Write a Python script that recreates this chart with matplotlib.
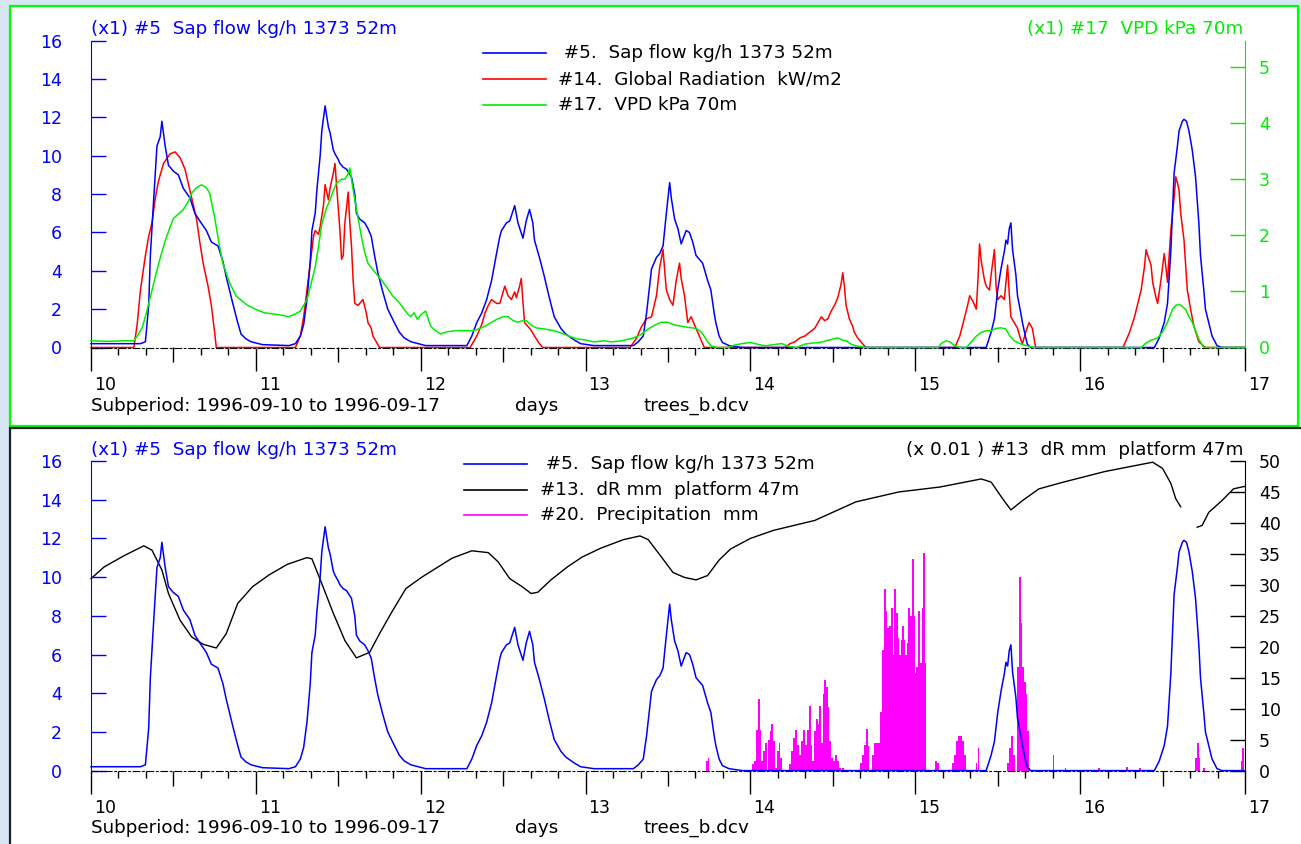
import numpy as np
import matplotlib
matplotlib.use('Agg')
import matplotlib.pyplot as plt
from matplotlib.patches import Rectangle
from matplotlib.lines import Line2D
import matplotlib.transforms as mtransforms

plt.rcParams['font.family'] = ['DejaVu Sans']
FS = 12.5      # tick labels
FT = 13.2      # header / legend / footer text

# ---------------- data ----------------
days = [10, 11, 12, 13, 14, 15, 16, 17]

# #5 Sap flow kg/h (left axes, both panels)
sap_t = [10.00, 10.30, 10.33, 10.35, 10.36, 10.38, 10.40, 10.42, 10.43, 10.45, 10.47, 10.50, 10.53,
         10.56, 10.60, 10.63, 10.66, 10.70, 10.73, 10.77, 10.80, 10.82, 10.84, 10.86, 10.89, 10.91,
         10.94, 10.97, 11.04, 11.20, 11.24, 11.27, 11.29, 11.31, 11.33, 11.34, 11.36, 11.37, 11.39,
         11.40, 11.42, 11.44, 11.45, 11.47, 11.48, 11.50, 11.51, 11.53, 11.55, 11.58, 11.60, 11.61,
         11.63, 11.66, 11.68, 11.70, 11.72, 11.74, 11.77, 11.80, 11.84, 11.87, 11.90, 11.94, 12.03,
         12.28, 12.31, 12.34, 12.37, 12.40, 12.43, 12.46, 12.48, 12.49, 12.52, 12.54, 12.57, 12.59,
         12.62, 12.64, 12.66, 12.68, 12.69, 12.72, 12.75, 12.78, 12.81, 12.85, 12.88, 12.93, 12.97,
         13.05, 13.29, 13.32, 13.35, 13.37, 13.40, 13.43, 13.45, 13.47, 13.49, 13.51, 13.52, 13.54,
         13.56, 13.58, 13.61, 13.63, 13.65, 13.67, 13.71, 13.74, 13.76, 13.78, 13.79, 13.81, 13.83,
         13.87, 13.95, 15.43, 15.46, 15.48, 15.50, 15.52, 15.54, 15.55, 15.56, 15.57, 15.58, 15.59,
         15.61, 15.62, 15.64, 15.65, 15.67, 15.68, 15.70, 16.45, 16.48, 16.51, 16.53, 16.55, 16.57,
         16.59, 16.60, 16.62, 16.63, 16.645, 16.66, 16.68, 16.70, 16.72, 16.73, 16.75, 16.76, 16.78,
         16.80, 16.83, 16.86, 17.00]
sap_v = [0.2, 0.2, 0.3, 2.2, 4.8, 7.7, 10.5, 11.0, 11.8, 10.5, 9.5, 9.2, 9.0,
         8.3, 7.8, 7.0, 6.6, 6.1, 5.5, 5.3, 4.5, 3.7, 3.0, 2.3, 1.3, 0.7,
         0.45, 0.3, 0.15, 0.1, 0.2, 0.6, 1.2, 2.5, 4.5, 6.1, 7.0, 8.2, 10.0,
         11.3, 12.6, 11.5, 11.2, 10.3, 10.1, 9.8, 9.6, 9.4, 9.3, 8.9, 8.0, 7.0,
         6.7, 6.5, 6.2, 5.8, 4.8, 3.9, 2.9, 2.0, 1.3, 0.8, 0.5, 0.3, 0.1,
         0.1, 0.6, 1.3, 1.8, 2.5, 3.5, 4.9, 5.8, 6.1, 6.5, 6.6, 7.4, 6.5,
         5.7, 6.6, 7.2, 6.5, 5.6, 4.7, 3.7, 2.6, 1.6, 1.0, 0.7, 0.4, 0.2,
         0.1, 0.1, 0.3, 0.6, 1.8, 4.1, 4.7, 4.9, 5.3, 7.0, 8.6, 7.8, 6.7,
         6.2, 5.4, 6.1, 6.0, 5.5, 4.8, 4.4, 3.5, 3.0, 1.8, 1.3, 0.6, 0.26,
         0.1, 0.0, 0.0, 0.8, 1.5, 3.0, 4.1, 5.0, 5.6, 5.4, 6.2, 6.5, 5.1,
         3.8, 2.7, 1.8, 1.3, 0.5, 0.17, 0.0, 0.0, 0.5, 1.3, 2.3, 5.0, 9.1,
         10.5, 11.3, 11.8, 11.9, 11.8, 11.3, 10.3, 8.9, 6.5, 4.8, 3.0, 2.0, 1.3,
         0.6, 0.1, 0.0, 0.0]

# #14 Global Radiation (top panel, left axes)
rad_t = [10.00, 10.26, 10.28, 10.30, 10.33, 10.35, 10.37, 10.39, 10.41, 10.44, 10.48, 10.51, 10.54,
         10.57, 10.60, 10.64, 10.66, 10.68, 10.71, 10.73, 10.75, 10.76, 11.24, 11.27, 11.29, 11.31,
         11.33, 11.35, 11.36, 11.38, 11.39, 11.41, 11.42, 11.44, 11.45, 11.47, 11.48, 11.49, 11.51,
         11.52, 11.53, 11.54, 11.56, 11.57, 11.58, 11.59, 11.60, 11.62, 11.65, 11.67, 11.68, 11.70,
         11.71, 11.73, 11.75, 12.30, 12.34, 12.37, 12.39, 12.41, 12.43, 12.46, 12.48, 12.50, 12.51,
         12.53, 12.55, 12.57, 12.58, 12.60, 12.61, 12.62, 12.63, 12.65, 12.67, 12.69, 12.72, 12.74,
         13.27, 13.31, 13.34, 13.37, 13.40, 13.43, 13.45, 13.47, 13.48, 13.49, 13.51, 13.53, 13.55,
         13.57, 13.58, 13.60, 13.62, 13.64, 13.66, 13.67, 13.70, 13.72, 14.21, 14.24, 14.27, 14.30,
         14.33, 14.36, 14.39, 14.41, 14.43, 14.45, 14.47, 14.49, 14.51, 14.53, 14.55, 14.56, 14.57,
         14.58, 14.60, 14.62, 14.63, 14.65, 14.67, 14.70, 15.24, 15.27, 15.30, 15.32, 15.33, 15.35,
         15.37, 15.38, 15.39, 15.40, 15.42, 15.43, 15.45, 15.46, 15.48, 15.49, 15.50, 15.52, 15.54,
         15.56, 15.57, 15.58, 15.60, 15.62, 15.64, 15.65, 15.67, 15.69, 15.71, 15.73, 16.26, 16.30,
         16.33, 16.35, 16.37, 16.39, 16.40, 16.41, 16.43, 16.44, 16.46, 16.47, 16.49, 16.51, 16.52,
         16.53, 16.54, 16.55, 16.57, 16.58, 16.59, 16.60, 16.61, 16.63, 16.64, 16.65, 16.67, 16.69,
         16.72, 16.76, 17.00]
rad_v = [0, 0, 1.2, 3.0, 4.8, 5.8, 6.5, 7.8, 8.7, 9.6, 10.1, 10.2, 9.9,
         9.3, 8.2, 6.7, 5.5, 4.4, 3.2, 2.2, 0.8, 0, 0, 0.6, 1.6, 3.0,
         4.4, 5.8, 6.1, 5.9, 6.3, 7.4, 8.5, 7.7, 8.3, 9.1, 9.6, 8.4, 6.1,
         4.6, 4.8, 6.5, 8.1, 6.5, 5.3, 3.5, 2.3, 2.2, 2.5, 1.8, 1.3, 1.0,
         0.6, 0.3, 0, 0, 0.6, 1.2, 1.8, 2.2, 2.5, 2.3, 2.3, 2.9, 3.2,
         2.7, 2.5, 2.9, 2.6, 3.2, 3.6, 2.4, 1.3, 1.1, 0.9, 0.6, 0.2, 0,
         0, 0.5, 1.1, 1.5, 1.6, 2.7, 4.2, 5.1, 4.0, 3.0, 2.5, 2.2, 3.5,
         4.4, 3.6, 2.7, 1.3, 1.6, 1.2, 1.0, 0.4, 0, 0, 0.2, 0.3, 0.5,
         0.6, 0.8, 1.0, 1.3, 1.6, 1.4, 1.5, 1.9, 2.2, 2.6, 3.3, 3.9, 3.2,
         2.2, 1.5, 1.1, 0.8, 0.5, 0.3, 0, 0, 0.6, 1.6, 2.3, 2.7, 2.4,
         2.0, 3.5, 5.4, 4.5, 3.5, 3.2, 3.0, 3.8, 5.1, 3.2, 2.5, 2.7, 2.5,
         4.3, 2.8, 1.6, 1.3, 1.0, 0.4, 0.2, 0.8, 1.3, 1.0, 0, 0, 0.8,
         1.6, 2.3, 3.0, 4.2, 5.1, 4.8, 4.3, 3.4, 2.6, 2.3, 3.5, 4.9, 4.2,
         3.4, 4.8, 6.1, 7.8, 8.9, 8.6, 8.2, 7.0, 5.6, 4.3, 3.0, 2.0, 1.1,
         0.3, 0, 0]

# #17 VPD kPa (top panel, right axes)
vpd_t = [10.00, 10.10, 10.20, 10.26, 10.28, 10.31, 10.33, 10.36, 10.39, 10.42, 10.45, 10.48, 10.50,
         10.53, 10.56, 10.59, 10.61, 10.64, 10.67, 10.70, 10.72, 10.75, 10.78, 10.80, 10.84, 10.88,
         10.92, 10.95, 11.00, 11.05, 11.10, 11.15, 11.20, 11.24, 11.27, 11.31, 11.34, 11.36, 11.38,
         11.40, 11.43, 11.45, 11.47, 11.49, 11.52, 11.54, 11.56, 11.57, 11.58, 11.60, 11.62, 11.64,
         11.66, 11.68, 11.72, 11.76, 11.80, 11.83, 11.87, 11.90, 11.92, 11.94, 11.96, 11.98, 12.00,
         12.03, 12.06, 12.09, 12.12, 12.16, 12.21, 12.26, 12.32, 12.36, 12.39, 12.43, 12.46, 12.50,
         12.53, 12.56, 12.59, 12.62, 12.64, 12.67, 12.70, 12.75, 12.81, 12.86, 12.90, 12.95, 12.99,
         13.05, 13.11, 13.16, 13.22, 13.26, 13.29, 13.33, 13.38, 13.42, 13.46, 13.50, 13.54, 13.58,
         13.62, 13.67, 13.70, 13.72, 13.74, 13.76, 13.80, 13.86, 13.90, 13.95, 14.00, 14.04, 14.09,
         14.14, 14.19, 14.23, 14.28, 14.33, 14.38, 14.42, 14.46, 14.50, 14.53, 14.56, 14.58, 14.61,
         14.64, 14.70, 15.14, 15.16, 15.19, 15.21, 15.24, 15.27, 15.31, 15.34, 15.37, 15.40, 15.43,
         15.46, 15.49, 15.52, 15.55, 15.57, 15.60, 15.62, 15.65, 15.68, 15.72, 16.37, 16.40, 16.43,
         16.47, 16.50, 16.53, 16.56, 16.58, 16.60, 16.62, 16.64, 16.66, 16.68, 16.70, 16.72, 16.75,
         17.00]
vpd_v = [0.12, 0.11, 0.12, 0.12, 0.2, 0.35, 0.55, 0.9, 1.26, 1.6, 1.9, 2.15, 2.3,
         2.38, 2.46, 2.6, 2.75, 2.85, 2.9, 2.85, 2.75, 2.32, 1.8, 1.5, 1.16, 0.92,
         0.82, 0.75, 0.68, 0.62, 0.6, 0.58, 0.55, 0.6, 0.65, 0.85, 1.2, 1.43, 1.8,
         2.2, 2.5, 2.63, 2.8, 2.93, 3.0, 3.0, 3.1, 3.2, 3.0, 2.63, 2.3, 1.98,
         1.7, 1.5, 1.35, 1.21, 1.05, 0.92, 0.8, 0.68, 0.6, 0.55, 0.62, 0.5, 0.58,
         0.65, 0.38, 0.3, 0.24, 0.28, 0.3, 0.3, 0.3, 0.34, 0.38, 0.45, 0.5, 0.55,
         0.55, 0.48, 0.45, 0.48, 0.48, 0.4, 0.35, 0.33, 0.3, 0.25, 0.2, 0.15, 0.14,
         0.1, 0.12, 0.1, 0.12, 0.15, 0.17, 0.22, 0.33, 0.4, 0.45, 0.45, 0.4, 0.38,
         0.36, 0.34, 0.28, 0.2, 0.1, 0.03, 0.0, 0.0, 0.04, 0.07, 0.09, 0.06, 0.03,
         0.05, 0.07, 0.02, 0.0, 0.06, 0.08, 0.09, 0.12, 0.15, 0.17, 0.13, 0.12, 0.06,
         0.03, 0.0, 0.0, 0.08, 0.12, 0.1, 0.03, 0.0, 0.0, 0.1, 0.2, 0.27, 0.3,
         0.3, 0.34, 0.35, 0.33, 0.22, 0.12, 0.09, 0.05, 0.03, 0.0, 0.0, 0.08, 0.13,
         0.17, 0.28, 0.45, 0.68, 0.75, 0.77, 0.73, 0.68, 0.55, 0.45, 0.3, 0.15, 0.0,
         0.0]

# #13 dR mm platform 47m (x0.01, bottom panel, right axes); nan = data gap
dr_t = [10.00, 10.08, 10.20, 10.32, 10.37, 10.43, 10.47, 10.54, 10.61, 10.68, 10.76, 10.82, 10.89,
        10.98, 11.08, 11.19, 11.31, 11.34, 11.40, 11.47, 11.54, 11.61, 11.69, 11.75, 11.82, 11.91,
        12.01, 12.10, 12.19, 12.31, 12.41, 12.47, 12.54, 12.61, 12.67, 12.71, 12.79, 12.89, 12.98,
        13.09, 13.23, 13.33, 13.38, 13.46, 13.53, 13.60, 13.67, 13.74, 13.81, 13.88, 14.00, 14.14,
        14.39, 14.64, 14.90, 15.15, 15.40, 15.46, 15.53, 15.58, 15.65, 15.75, 15.90, 16.15, 16.40,
        16.44, 16.50, 16.55, 16.58, 16.61, 16.66, 16.71, 16.74, 16.78, 16.86, 16.93, 16.98, 17.00]
dr_v = [31.0, 32.9, 34.7, 36.3, 35.6, 32.4, 28.6, 24.3, 21.6, 20.4, 19.8, 22.1, 27.0,
        29.7, 31.6, 33.3, 34.4, 34.2, 30.2, 25.4, 21.0, 18.2, 19.1, 22.1, 25.4, 29.4,
        31.3, 32.8, 34.3, 35.5, 35.2, 33.7, 31.0, 29.8, 28.6, 28.8, 30.8, 32.9, 34.5,
        35.9, 37.3, 37.9, 37.3, 34.5, 32.0, 31.2, 30.8, 31.5, 34.0, 35.8, 37.5, 38.8,
        40.4, 43.4, 45.0, 45.8, 47.1, 46.6, 43.9, 42.1, 43.6, 45.5, 46.6, 48.3, 49.6,
        49.8, 48.8, 46.4, 43.9, 42.6, np.nan, 39.3, 39.6, 41.7, 43.6, 45.5, 45.8, 45.9]

# #20 Precipitation mm (bottom panel, right axes)
prec_t = [13.735, 13.745, 14.017, 14.029, 14.041, 14.050, 14.060, 14.072, 14.084, 14.096, 14.113,
          14.125, 14.132, 14.144, 14.156, 14.168, 14.177, 14.187, 14.240, 14.252, 14.264, 14.276,
          14.288, 14.300, 14.312, 14.324, 14.336, 14.348, 14.360, 14.369, 14.381, 14.393, 14.405,
          14.415, 14.424, 14.434, 14.444, 14.453, 14.463, 14.472, 14.484, 14.496, 14.508, 14.520,
          14.532, 14.544, 14.561, 14.669, 14.681, 14.693, 14.705, 14.715, 14.743, 14.755, 14.767,
          14.779, 14.791, 14.803, 14.815, 14.825, 14.835, 14.847, 14.859, 14.868, 14.878, 14.887,
          14.897, 14.906, 14.916, 14.926, 14.935, 14.945, 14.954, 14.964, 14.976, 14.986, 14.993,
          15.002, 15.012, 15.024, 15.034, 15.043, 15.053, 15.060, 15.127, 15.139, 15.228, 15.240,
          15.252, 15.264, 15.276, 15.288, 15.300, 15.372, 15.384, 15.564, 15.576, 15.588, 15.600,
          15.624, 15.635, 15.645, 15.655, 15.664, 15.674, 15.683, 15.693, 15.839, 15.911, 16.115,
          16.283, 16.362, 16.703, 16.715, 16.724, 16.751, 16.978, 16.988]
prec_v = [1.5, 2.0, 1.0, 1.5, 6.5, 11.6, 6.5, 1.5, 3.2, 4.5, 5.0,
          6.4, 7.6, 4.8, 0.4, 3.2, 4.5, 2.1, 1.0, 3.2, 5.3, 6.5,
          4.2, 2.6, 4.8, 6.5, 4.2, 6.5, 10.5, 4.2, 1.5, 6.4, 8.3,
          7.5, 10.5, 4.5, 12.4, 14.6, 13.5, 10.2, 4.8, 2.1, 1.5, 2.6,
          1.5, 0.5, 0.4, 1.25, 2.6, 4.2, 6.7, 4.0, 2.6, 4.5, 4.5,
          4.5, 9.4, 19.5, 29.4, 25.7, 23.0, 23.4, 26.3, 18.7, 29.4, 25.5,
          21.4, 18.7, 21.1, 23.3, 21.1, 18.7, 20.6, 26.3, 24.9, 34.2, 24.9,
          15.7, 16.8, 25.7, 17.3, 26.3, 35.2, 17.3, 1.5, 1.25, 1.25, 2.6,
          4.8, 5.6, 5.6, 4.8, 2.6, 1.25, 3.7, 1.25, 3.7, 5.6, 2.6,
          16.8, 31.2, 23.8, 16.8, 14.3, 12.4, 6.4, 0.4, 2.6, 0.5, 0.5,
          0.6, 0.5, 2.1, 4.5, 2.1, 0.5, 1.5, 3.7]

sap_label = '#5.  Sap flow kg/h 1373 52m'
top_legend = [sap_label, '#14.  Global Radiation  kW/m2', '#17.  VPD kPa 70m']
bot_legend = [sap_label, '#13.  dR mm  platform 47m', '#20.  Precipitation  mm']

BLUE = '#0000ff'
RED = '#ff0000'
GREEN = '#00ee00'
MAG = '#ff00ff'
BLACK = '#000000'

# ---------------- figure ----------------
W, H = 1301, 844
fig = plt.figure(figsize=(W / 100, H / 100), dpi=100)
fig.patch.set_facecolor('#d7e6f4')


def fx(px):
    return px / W


def fy(py):
    return 1 - py / H


# panel backgrounds
fig.add_artist(Rectangle((fx(10), fy(426)), (1298 - 10) / W, (426 - 6) / H, transform=fig.transFigure,
                         facecolor='white', edgecolor='#00ff00', lw=1.6, zorder=-5))
fig.add_artist(Rectangle((fx(10), fy(860)), (1320 - 10) / W, (860 - 428) / H, transform=fig.transFigure,
                         facecolor='white', edgecolor='#202020', lw=1.6, zorder=-5))

dash = (0, (6, 2.5, 1.5, 2.5))
minor_pos = [10 + k / 6 for k in range(43) if k % 3 != 0]
half_pos = [d + 0.5 for d in days[:-1]]


def style_axes(ax, ax2, yl_color, yr_color, yr_max, yr_ticks):
    ax.set_xlim(10, 17)
    ax.set_ylim(0, 16)
    ax.set_yticks(range(0, 17, 2))
    ax.set_xticks(days)
    ax.set_xticklabels([str(d) for d in days])
    ax.set_xticks(minor_pos, minor=True)
    ax.tick_params(axis='y', direction='in', length=11, width=1, colors=yl_color, labelsize=FS, pad=21)
    ax.tick_params(axis='x', which='major', direction='out', length=16.5, width=1, pad=4,
                   labelsize=FS, colors=BLACK)
    ax.tick_params(axis='x', which='minor', direction='out', length=5, width=1, colors=BLACK)
    off = mtransforms.ScaledTranslation(3 / 100, 0, fig.dpi_scale_trans)
    for lab in ax.get_xticklabels():
        lab.set_horizontalalignment('left')
        lab.set_transform(lab.get_transform() + off)
    for s in ['top', 'right']:
        ax.spines[s].set_visible(False)
    ax.spines['left'].set_color(yl_color)
    ax.spines['bottom'].set_linestyle(dash)
    ax.spines['bottom'].set_color(BLACK)
    sec = ax.secondary_xaxis('bottom')
    sec.set_xticks(half_pos)
    sec.tick_params(axis='x', direction='out', length=10.5, width=1, labelbottom=False, colors=BLACK)
    sec.spines['bottom'].set_visible(False)

    ax2.set_ylim(0, yr_max)
    ax2.set_yticks(yr_ticks)
    ax2.tick_params(axis='y', direction='in', length=11, width=1, colors=yr_color, labelsize=FS, pad=10)
    for s in ['top', 'left', 'bottom']:
        ax2.spines[s].set_visible(False)
    ax2.spines['right'].set_color(yr_color)


AX_L, AX_R = 91, 1245

# ---------- top panel ----------
T_TOP, T_BOT = 40.7, 347.5
ax_t = fig.add_axes([fx(AX_L), fy(T_BOT), (AX_R - AX_L) / W, (T_BOT - T_TOP) / H])
ax_t.patch.set_visible(False)
ax_t2 = ax_t.twinx()
style_axes(ax_t, ax_t2, BLUE, GREEN, 5.47, range(0, 6))
ax_t.plot(sap_t, sap_v, color=BLUE, lw=1.1, clip_on=False, zorder=3)
ax_t.plot(rad_t, rad_v, color=RED, lw=1.1, clip_on=False, zorder=2)
ax_t2.plot(vpd_t, vpd_v, color=GREEN, lw=1.1, clip_on=False, zorder=3)

# ---------- bottom panel ----------
B_TOP, B_BOT = 461.0, 770.6
ax_b = fig.add_axes([fx(AX_L), fy(B_BOT), (AX_R - AX_L) / W, (B_BOT - B_TOP) / H])
ax_b2 = ax_b.twinx()
ax_b.set_zorder(ax_b2.get_zorder() + 1)
ax_b.patch.set_visible(False)
style_axes(ax_b, ax_b2, BLUE, BLACK, 50, range(0, 51, 5))
ax_b2.bar(prec_t, prec_v, width=0.0105, color=MAG, lw=0, align='center', zorder=2)
ax_b2.plot(dr_t, dr_v, color=BLACK, lw=1.0, clip_on=False, zorder=3)
ax_b.plot(sap_t, sap_v, color=BLUE, lw=1.1, clip_on=False, zorder=3)


# ---------- texts ----------
def ftext(x, y, s, color=BLACK, ha='left'):
    fig.text(fx(x), fy(y), s, color=color, ha=ha, va='center', fontsize=FT)


ftext(91, 29, '(x1) #5  Sap flow kg/h 1373 52m', BLUE)
ftext(1243, 29, '(x1) #17  VPD kPa 70m', GREEN, ha='right')
ftext(91, 450, '(x1) #5  Sap flow kg/h 1373 52m', BLUE)
ftext(1243, 450, '(x 0.01 ) #13  dR mm  platform 47m', BLACK, ha='right')

for label, col, yy in zip(top_legend, [BLUE, RED, GREEN], [53, 79, 105]):
    fig.add_artist(Line2D([fx(483), fx(546)], [fy(yy), fy(yy)], color=col, lw=1.2, transform=fig.transFigure))
    ftext(558, yy, (' ' if label.startswith('#5') else '') + label)
for label, col, yy in zip(bot_legend, [BLUE, BLACK, MAG], [464, 489.5, 515]):
    fig.add_artist(Line2D([fx(464), fx(527)], [fy(yy), fy(yy)], color=col, lw=1.2, transform=fig.transFigure))
    ftext(540, yy, (' ' if label.startswith('#5') else '') + label)

for yy in [406, 828]:
    ftext(91, yy, 'Subperiod: 1996-09-10 to 1996-09-17')
    ftext(515, yy, 'days')
    ftext(643, yy, 'trees_b.dcv')

fig.savefig('out.png', dpi=100, facecolor=fig.get_facecolor())
